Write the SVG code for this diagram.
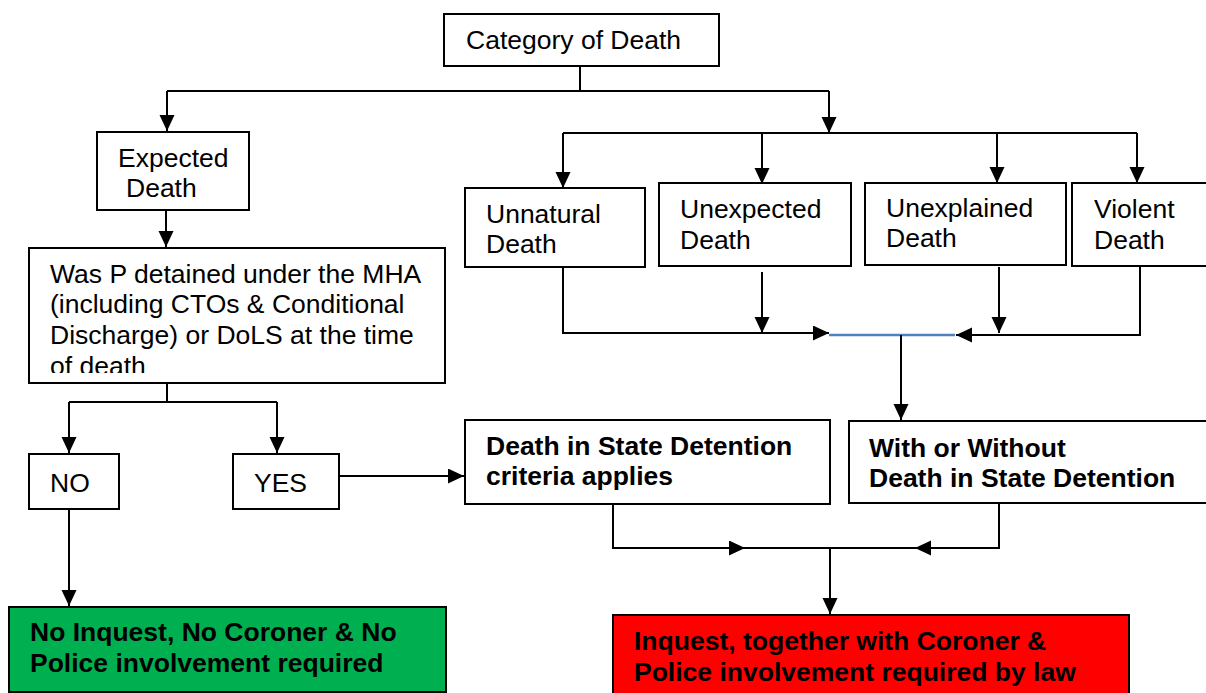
<svg xmlns="http://www.w3.org/2000/svg" width="1206" height="693" viewBox="0 0 1206 693">
<defs>
<style>
.box{fill:#fff;stroke:#000;stroke-width:2}
.t{font-family:"Liberation Sans",Arial,sans-serif;font-size:26.5px;fill:#000}
.b{font-weight:bold}
.c{fill:none;stroke:#000;stroke-width:2}
</style>
<marker id="ah" markerUnits="userSpaceOnUse" markerWidth="17" markerHeight="16" refX="16" refY="7.5" orient="auto">
<path d="M0,0 L16,7.5 L0,15 Z" fill="#000"/>
</marker>
<clipPath id="clipP"><rect x="29" y="248" width="416" height="125"/></clipPath>
</defs>
<rect width="1206" height="693" fill="#fff"/>
<g id="connectors">
<path class="c" d="M580,66 V91 M167,91 H829"/>
<path class="c" d="M167,91 V131" marker-end="url(#ah)"/>
<path class="c" d="M829,91 V133" marker-end="url(#ah)"/>
<path class="c" d="M563,133 H1137"/>
<path class="c" d="M563,133 V188" marker-end="url(#ah)"/>
<path class="c" d="M762,133 V184" marker-end="url(#ah)"/>
<path class="c" d="M997,133 V183" marker-end="url(#ah)"/>
<path class="c" d="M1137,133 V183" marker-end="url(#ah)"/>
<path class="c" d="M166,210 V247" marker-end="url(#ah)"/>
<path class="c" d="M167,383 V402 M69,402 H277"/>
<path class="c" d="M69,402 V453" marker-end="url(#ah)"/>
<path class="c" d="M277,402 V453" marker-end="url(#ah)"/>
<path class="c" d="M339,476 H464" marker-end="url(#ah)"/>
<path class="c" d="M69,509 V606" marker-end="url(#ah)"/>
<path class="c" d="M563,267 V333 H829" marker-end="url(#ah)"/>
<path class="c" d="M762,272 V333" marker-end="url(#ah)"/>
<path d="M829,335 H955" fill="none" stroke="#4f81bd" stroke-width="2.5"/>
<path class="c" d="M1140,266 V335 H956" marker-end="url(#ah)"/>
<path class="c" d="M999,267 V333" marker-end="url(#ah)"/>
<path class="c" d="M901,335 V420" marker-end="url(#ah)"/>
<path class="c" d="M613,504 V548 H745" marker-end="url(#ah)"/>
<path class="c" d="M745,548 H915"/>
<path class="c" d="M999,504 V548 H915" marker-end="url(#ah)"/>
<path class="c" d="M830,548 V614" marker-end="url(#ah)"/>
</g>
<g id="category">
<rect class="box" x="444" y="14" width="275" height="52"/>
<text class="t" x="466" y="49">Category of Death</text>
</g>
<g id="expected">
<rect class="box" x="97" y="132" width="152" height="78"/>
<text class="t" x="118" y="167">Expected</text>
<text class="t" x="126" y="197">Death</text>
</g>
<g id="unnatural">
<rect class="box" x="465" y="188" width="180" height="79"/>
<text class="t" x="486" y="223">Unnatural</text>
<text class="t" x="486" y="253">Death</text>
</g>
<g id="unexpected">
<rect class="box" x="659" y="183" width="192" height="83"/>
<text class="t" x="680" y="218">Unexpected</text>
<text class="t" x="680" y="249">Death</text>
</g>
<g id="unexplained">
<rect class="box" x="865" y="183" width="201" height="82"/>
<text class="t" x="886" y="217">Unexplained</text>
<text class="t" x="886" y="247">Death</text>
</g>
<g id="violent">
<rect class="box" x="1072" y="183" width="200" height="83"/>
<text class="t" x="1094" y="218">Violent</text>
<text class="t" x="1094" y="249">Death</text>
</g>
<g id="detained">
<rect class="box" x="29" y="248" width="416" height="135"/>
<g clip-path="url(#clipP)">
<text class="t" x="50" y="283">Was P detained under the MHA</text>
<text class="t" x="50" y="313">(including CTOs &amp; Conditional</text>
<text class="t" x="50" y="344">Discharge) or DoLS at the time</text>
<text class="t" x="50" y="375">of death</text>
</g>
</g>
<g id="no">
<rect class="box" x="29" y="454" width="90" height="55"/>
<text class="t" x="50" y="492">NO</text>
</g>
<g id="yes">
<rect class="box" x="233" y="454" width="106" height="55"/>
<text class="t" x="254" y="492">YES</text>
</g>
<g id="dsd">
<rect class="box" x="465" y="420" width="365" height="84"/>
<text class="t b" x="486" y="455">Death in State Detention</text>
<text class="t b" x="486" y="485">criteria applies</text>
</g>
<g id="withwithout">
<rect class="box" x="849" y="421" width="400" height="82"/>
<text class="t b" x="869" y="457">With or Without</text>
<text class="t b" x="869" y="487">Death in State Detention</text>
</g>
<g id="noinquest">
<rect x="9" y="607" width="437" height="85" fill="#00b050" stroke="#000" stroke-width="2"/>
<text class="t b" x="30" y="641">No Inquest, No Coroner &amp; No</text>
<text class="t b" x="30" y="672">Police involvement required</text>
</g>
<g id="inquest">
<rect x="613" y="615" width="516" height="90" fill="#ff0000" stroke="#000" stroke-width="2"/>
<text class="t b" x="634" y="650">Inquest, together with Coroner &amp;</text>
<text class="t b" x="634" y="681">Police involvement required by law</text>
</g>
</svg>
